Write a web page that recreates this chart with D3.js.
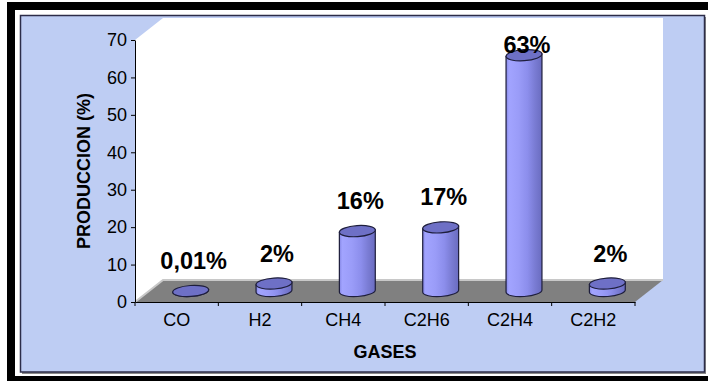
<!DOCTYPE html>
<html>
<head>
<meta charset="utf-8">
<script src="https://cdn.jsdelivr.net/npm/d3@7"></script>
<style>
  html, body { margin: 0; padding: 0; background: #ffffff; }
  svg { display: block; font-family: Arial, "Liberation Sans", sans-serif; }
</style>
</head>
<body>
<svg id="chart" width="708" height="381"></svg>
<script>
// Gas production by component
const categories = ["CO", "H2", "CH4", "C2H6", "C2H4", "C2H2"];
const values = [0.01, 2, 16, 17, 63, 2];
const valueLabels = ["0,01%", "2%", "16%", "17%", "63%", "2%"];
const yTicks = [0, 10, 20, 30, 40, 50, 60, 70];

const svg = d3.select("#chart");

// outer black frame and chart area
svg.append("rect").attr("x", 11).attr("y", 6).attr("width", 712).attr("height", 374)
  .attr("fill", "#ffffff").attr("stroke", "#000000").attr("stroke-width", 8);
svg.append("rect").attr("x", 22).attr("y", 17).attr("width", 684).attr("height", 357)
  .attr("fill", "#8a8a8a");
svg.append("rect").attr("x", 20.5).attr("y", 15.5).attr("width", 684).attr("height", 356.5)
  .attr("fill", "#BECDF3").attr("stroke", "#2c2c48").attr("stroke-width", 1.5);

const x = d3.scaleBand().domain(categories).range([135, 635]).padding(0);
const y = d3.scaleLinear().domain([0, 70]).range([302, 40]);
const dx = 28, dy = -22;           // depth offset of the 3D box
const x0 = x.range()[0], x1 = x.range()[1];
const yb = y(0), yt = y(70);

// walls
svg.append("path")
  .attr("d", `M${x0},${yb} L${x0},${yt} L${x0 + dx},${yt + dy} L${x1 + dx},${yt + dy} L${x1 + dx},${yb + dy} L${x0 + dx},${yb + dy} Z`)
  .attr("fill", "#ffffff");

// floor
svg.append("path")
  .attr("d", `M${x0},${yb} L${x0 + dx},${yb + dy} L${x1 + dx},${yb + dy} L${x1},${yb} Z`)
  .attr("fill", "#808080");
svg.append("path")
  .attr("d", `M${x0},${yb} L${x0 + dx},${yb + dy} L${x1 + dx},${yb + dy}`)
  .attr("fill", "none").attr("stroke", "#c8c8c8").attr("stroke-width", 2);

// cylinder shading
const defs = svg.append("defs");
const grad = defs.append("linearGradient").attr("id", "cyl").attr("x1", "0").attr("x2", "1").attr("y1", "0").attr("y2", "0");
[[0, "#8486e4"], [0.08, "#a2a4ff"], [0.35, "#9a9cf8"], [0.6, "#8c8eec"], [0.8, "#7a7cd4"], [1, "#6a6cc0"]]
  .forEach(([o, c]) => grad.append("stop").attr("offset", o).attr("stop-color", c));

const r = 18, ry = 5.5, tilt = 4 * Math.PI / 180;
const ex = r * Math.cos(tilt), ey = r * Math.sin(tilt);

const bars = svg.append("g");
categories.forEach((c, i) => {
  const cx = x(c) + x.bandwidth() / 2 + dx / 2;
  const base = y(0) + dy / 2;
  const top = base - (y(0) - y(values[i]));
  bars.append("path")
    .attr("d", `M${cx - ex},${top + ey} L${cx - ex},${base + ey} A${r},${ry} -4 0 0 ${cx + ex},${base - ey} L${cx + ex},${top - ey} Z`)
    .attr("fill", "url(#cyl)").attr("stroke", "#1e1e3c").attr("stroke-width", 1.2);
  bars.append("ellipse")
    .attr("cx", cx).attr("cy", top).attr("rx", r).attr("ry", ry)
    .attr("transform", `rotate(-4,${cx},${top})`)
    .attr("fill", "#6e70c6").attr("stroke", "#1e1e3c").attr("stroke-width", 1.2);
  svg.append("text")
    .attr("x", cx + 3)
    .attr("y", Math.max(top - 22, yt + 13))
    .attr("text-anchor", "middle")
    .attr("font-size", 23.5).attr("font-weight", "bold").attr("fill", "#000")
    .text(valueLabels[i]);
});

// y axis
const yAxis = svg.append("g").attr("transform", `translate(${x0},0)`)
  .call(d3.axisLeft(y).tickValues(yTicks).tickSize(4).tickSizeOuter(0).tickPadding(4));
yAxis.selectAll("text").attr("font-size", 18).attr("fill", "#000").attr("font-family", "Arial, 'Liberation Sans', sans-serif");
yAxis.selectAll("line, path").attr("stroke", "#000");

// x axis
const xAxis = svg.append("g").attr("transform", `translate(0,${yb})`)
  .call(d3.axisBottom(x).tickSize(0).tickPadding(11).tickSizeOuter(0));
xAxis.selectAll("text").attr("font-size", 18).attr("fill", "#000").attr("font-family", "Arial, 'Liberation Sans', sans-serif");
xAxis.select("path").attr("stroke", "#000");
const bounds = categories.map(c => x(c)).concat([x1]);
svg.append("g").selectAll("line").data(bounds).join("line")
  .attr("x1", d => d).attr("x2", d => d).attr("y1", yb).attr("y2", yb + 4)
  .attr("stroke", "#000");

// axis titles
svg.append("text").attr("transform", `translate(90,${(yb + yt) / 2}) rotate(-90)`)
  .attr("text-anchor", "middle").attr("font-size", 18).attr("font-weight", "bold")
  .text("PRODUCCION (%)");
svg.append("text").attr("x", (x0 + x1) / 2).attr("y", 358)
  .attr("text-anchor", "middle").attr("font-size", 18).attr("font-weight", "bold")
  .text("GASES");
</script>
</body>
</html>
